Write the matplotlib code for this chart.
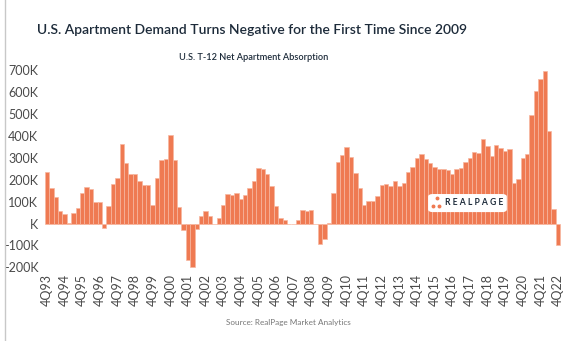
import matplotlib.pyplot as plt
from matplotlib.lines import Line2D
from matplotlib.patches import FancyBboxPatch

# T-12 net apartment absorption, thousands of units, quarterly
values = [
    235, 160, 120, 55, 44, 2, 48, 70, 140, 166, 156, 100, 100, -20, 81, 178,
    208, 362, 275, 224, 224, 194, 176, 176, 86, 206, 290, 296, 405, 290, 75, -28,
    -168, -198, -24, 32, 58, 36, -3, 24, 86, 136, 132, 140, 112, 128, 164, 194,
    255, 248, 225, 171, 78, 24, 15, -2, -4, 15, 63, 57, 63, -2, -95, -70,
    2, 138, 281, 311, 350, 302, 232, 160, 84, 101, 101, 125, 176, 180, 172, 192,
    172, 183, 234, 258, 299, 318, 296, 277, 257, 250, 250, 242, 226, 247, 254, 281,
    299, 328, 320, 385, 354, 308, 358, 343, 331, 339, 183, 204, 299, 315, 496, 605,
    657, 694, 421, 67, -100,
]
first_year = 93
tick_every = 4

ytick_vals = [700, 600, 500, 400, 300, 200, 100, 0, -100, -200]
ytick_labels = ["700K", "600K", "500K", "400K", "300K", "200K", "100K", "K", "-100K", "-200K"]

title = "U.S. Apartment Demand Turns Negative for the First Time Since 2009"
subtitle = "U.S. T-12 Net Apartment Absorption"
source = "Source: RealPage Market Analytics"

plt.rcParams['font.family'] = ['Lato', 'DejaVu Sans']

fig = plt.figure(figsize=(5.88, 3.41), dpi=100)
ax = fig.add_axes([0.0724, 0.2094, 0.884, 0.5921])

x = list(range(len(values)))
ax.bar(x, values, width=1.0, color="#ef7a52", edgecolor="#f7b7a0", linewidth=0.5)

ax.set_xlim(-1, len(values))
ax.set_ylim(-210, 710)

tick_pos = x[::tick_every]
tick_lab = ["4Q%02d" % ((first_year + k) % 100) for k in range(len(tick_pos))]
ax.set_xticks(tick_pos)
ax.set_xticklabels(tick_lab, rotation=90, fontsize=9, color="#4a4a4a")
ax.set_yticks(ytick_vals)
ax.set_yticklabels(ytick_labels, fontsize=9, color="#4a4a4a")
ax.tick_params(length=0, pad=3)
for s in ax.spines.values():
    s.set_visible(False)

fig.text(0.428, 0.912, title, ha="center", va="center", fontsize=10.0, color="#1d2b3a",
         fontweight="semibold")
fig.text(0.432, 0.83, subtitle, ha="center", va="center", fontsize=6.6, color="#1d2b3a",
         fontweight="semibold")
fig.text(0.49, 0.055, source, ha="center", va="center", fontsize=5.9, color="#777777")

# left border line
fig.add_artist(Line2D([5 / 588, 5 / 588], [0, 1], color="#c8c8c8", lw=1, transform=fig.transFigure))

# RealPage logo box
fig.add_artist(FancyBboxPatch((0.728, 0.378), 0.134, 0.053, boxstyle="round,pad=0,rounding_size=0.008",
                              fc="white", ec="none", transform=fig.transFigure))
fig.text(0.757, 0.405, "R E A L P A G E", ha="left", va="center", fontsize=6.2, color="#1d2b3a",
         fontweight="bold")
fig.add_artist(Line2D([0.736, 0.747, 0.743], [0.396, 0.396, 0.418], ls="none", marker="o",
                      ms=1.8, color="#ef7a52", transform=fig.transFigure))

fig.savefig("out.png", dpi=100)
